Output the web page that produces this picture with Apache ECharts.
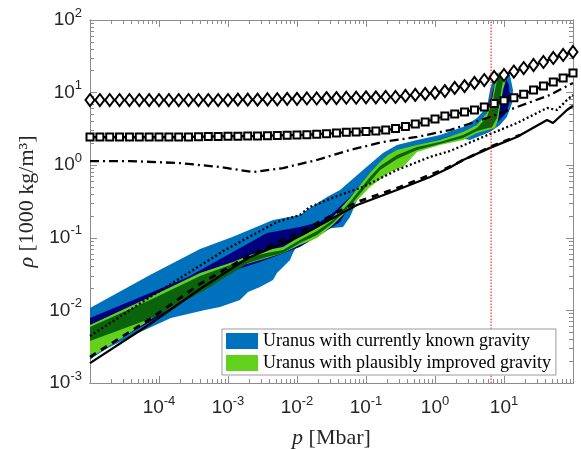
<!DOCTYPE html>
<html>
<head>
<meta charset="utf-8">
<script src="https://cdn.jsdelivr.net/npm/echarts@6/dist/echarts.min.js"></script>
<style>
  html, body { margin: 0; padding: 0; background: #fff; }
  #chart { width: 581px; height: 449px; }
</style>
</head>
<body>
<div id="chart"></div>
<script>
const chart = echarts.init(document.getElementById('chart'));

// --- data (p in Mbar, rho in 1000 kg/m^3) ---
const pGrid = [
  1e-5, 1.39e-5, 1.93e-5, 2.68e-5, 3.73e-5, 5.18e-5, 7.2e-5,
  1e-4, 1.39e-4, 1.93e-4, 2.68e-4, 3.73e-4, 5.18e-4, 7.2e-4,
  1e-3, 1.39e-3, 1.93e-3, 2.68e-3, 3.73e-3, 5.18e-3, 7.2e-3,
  1e-2, 1.39e-2, 1.93e-2, 2.68e-2, 3.73e-2, 5.18e-2, 7.2e-2,
  0.1, 0.139, 0.193, 0.268, 0.373, 0.518, 0.72,
  1, 1.39, 1.93, 2.68, 3.73, 5.18, 7.2,
  10, 13.9, 19.3, 26.8, 37.3, 51.8, 72,
  100
];
const diamondRho = [
  7.9, 7.9, 7.9, 7.9, 7.9, 7.9, 7.9, 7.9, 7.9, 7.9, 7.9, 7.9, 7.9, 7.9, 7.9,
  8.0, 8.0, 8.0, 8.1, 8.1,
  8.2, 8.2, 8.3, 8.3, 8.4, 8.4, 8.5, 8.5, 8.6, 8.6,
  8.7, 8.7, 9.0, 9.3, 9.6, 9.9, 10.5, 11.6, 12.3, 13.6,
  14.9, 16.4, 17.5, 19.5, 21.8, 24.0, 26.4, 30.0, 33.0, 36.3
];
const squareRho = [
  2.44, 2.44, 2.44, 2.44, 2.44, 2.44, 2.44, 2.44, 2.44, 2.44, 2.44,
  2.47, 2.48, 2.49, 2.50, 2.51, 2.52, 2.53, 2.55, 2.57, 2.59,
  2.60, 2.63, 2.67, 2.72, 2.77,
  2.84, 2.87, 2.91, 2.96, 3.05, 3.20, 3.40, 3.68, 3.94, 4.33, 4.76, 5.07,
  5.41, 5.76, 6.33, 7.05, 7.7, 8.5, 9.5, 10.9, 12.3, 14.0, 15.9, 18.6
];
const solidCurve = [
  [1e-5, 1.88e-3], [7.41e-5, 6.5e-3], [3.93e-4, 1.97e-2], [1.95e-3, 5.27e-2],
  [1.1e-2, 0.106], [7.41e-2, 0.283], [0.281, 0.455], [0.847, 0.688], [1.65, 0.93],
  [2.55, 1.18], [6.27, 1.73], [15.4, 2.45], [42, 4.19], [51.3, 3.81], [81.8, 5.76], [100, 6.6]
];
const dashedCurve = [
  [1e-5, 2.28e-3], [7.41e-5, 7.62e-3], [3.93e-4, 2.31e-2], [1.95e-3, 5.61e-2],
  [1.1e-2, 0.12], [7.41e-2, 0.311], [0.311, 0.501], [1.49, 0.914], [6.27, 1.78], [17.1, 2.61]
];
const dottedCurve = [
  [1e-5, 4.44e-3], [7.41e-5, 1.53e-2], [3.93e-4, 4.13e-2], [9.06e-4, 6.79e-2],
  [5.13e-3, 0.165], [1.1e-2, 0.206], [1.54e-2, 0.266], [4.2e-2, 0.389], [9.06e-2, 0.501],
  [0.281, 0.859], [0.847, 1.30], [1.65, 1.57], [4.96, 2.45], [15.4, 3.81], [42, 6.14],
  [58.6, 5.76], [81.8, 7.91], [100, 9.27]
];
const dashDotCurve = [
  [1e-5, 1.14], [3.8e-5, 1.14], [2.01e-4, 1.07], [7.66e-4, 0.944], [2.3e-3, 0.805],
  [6.26e-3, 0.914], [1.95e-2, 1.18], [5.86e-2, 1.62], [0.176, 2.09], [0.548, 2.45],
  [1.65, 3.05], [6.27, 4.61], [15.4, 6.33], [46.4, 9.27], [100, 13.6]
];

// outlines of the shaded ensembles
const knownOuter = [
  [1e-5, 1.08e-2], [7.41e-5, 3.08e-2], [3.93e-4, 7.0e-2], [1.18e-3, 0.103], [4.49e-3, 0.176],
  [1.1e-2, 0.206], [1.54e-2, 0.257], [2.72e-2, 0.365], [4.2e-2, 0.455], [9.06e-2, 0.859],
  [0.176, 1.47], [0.281, 1.90], [0.548, 2.22], [1.18, 2.61], [2.55, 3.36], [4.06, 4.47],
  [5.67, 6.33], [6.27, 10.9], [6.7, 13.6], [7.92, 18.6], [10.3, 19.2], [12.2, 17.5],
  [13.5, 10.9], [13.1, 7.19], [11.0, 4.61], [8.75, 3.58], [6.27, 2.87], [3.21, 2.22],
  [2.3, 2.37], [1.18, 2.09], [0.48, 1.62], [0.281, 1.30], [0.16, 0.859], [9.06e-2, 0.501],
  [7.41e-2, 0.332], [5.86e-2, 0.194], [4.64e-2, 0.141], [3.32e-2, 0.136], [1.95e-2, 0.128],
  [1.1e-2, 9.33e-2], [8.75e-3, 6.18e-2], [7.92e-3, 4.95e-2], [5.13e-3, 3.27e-2],
  [4.49e-3, 2.62e-2], [2.91e-3, 2.1e-2], [1.95e-3, 1.79e-2], [1.49e-3, 1.39e-2],
  [7.66e-4, 1.11e-2], [4.64e-4, 1.01e-2], [1.49e-4, 7.85e-3], [4.97e-5, 4.89e-3],
  [1.82e-5, 3.03e-3], [1.18e-5, 2.36e-3], [1e-5, 2.07e-3]
];
const knownInner = [
  [1e-5, 7.85e-3], [7.41e-5, 1.74e-2], [2.63e-4, 2.88e-2], [1.18e-3, 6.37e-2], [3.67e-3, 0.116],
  [1.1e-2, 0.141], [2.15e-2, 0.165], [3.32e-2, 0.22], [5.31e-2, 0.332], [7.41e-2, 0.455],
  [0.16, 0.944], [0.281, 1.52], [0.847, 2.09], [2.55, 2.78], [4.49, 3.58], [5.86, 5.41],
  [6.93, 10.9], [8.19, 15.9], [10.3, 16.9], [11.8, 12.7], [12.2, 7.91], [11.0, 5.41],
  [8.75, 4.19], [6.27, 3.25], [3.21, 2.69], [1.18, 2.3], [0.48, 1.78], [0.281, 1.38],
  [0.16, 0.80], [9.06e-2, 0.48], [5.86e-2, 0.283], [4.2e-2, 0.165], [2.15e-2, 0.109],
  [1.1e-2, 7.47e-2], [2.91e-3, 4.64e-2], [7.66e-4, 3.08e-2], [3.93e-4, 1.91e-2],
  [7.41e-5, 6.92e-3], [1e-5, 2.43e-3]
];
const improvedOuter = [
  [1e-5, 6.29e-3], [7.41e-5, 1.53e-2], [3.93e-4, 3.27e-2], [1.18e-3, 4.64e-2], [2.08e-3, 5.8e-2],
  [3.67e-3, 6.79e-2], [6.26e-3, 7.47e-2], [1.1e-2, 0.103], [1.95e-2, 0.136], [3.32e-2, 0.194],
  [5.86e-2, 0.353], [0.114, 0.781], [0.16, 1.11], [0.208, 1.38], [0.281, 1.62], [0.548, 1.9],
  [1.18, 2.22], [2.55, 2.87], [4.06, 3.58], [5.67, 5.24], [6.7, 7.91], [7.41, 13.6],
  [8.19, 18.6], [9.68, 19.2], [11.0, 16.4], [9.68, 10.9], [8.75, 6.33], [8.19, 4.19],
  [7.41, 3.25], [4.06, 2.78], [2.55, 2.22], [1.18, 1.9], [0.548, 1.52], [0.344, 0.944],
  [0.223, 0.805], [0.114, 0.501], [5.86e-2, 0.257], [3.32e-2, 0.15], [1.95e-2, 9.93e-2],
  [1.1e-2, 7.96e-2], [6.26e-3, 6.18e-2], [3.67e-3, 5.27e-2], [1.18e-3, 3.84e-2],
  [3.93e-4, 2.24e-2], [7.41e-5, 7.38e-3], [1e-5, 2.21e-3]
];
const improvedInner = [
  [1e-5, 5.9e-3], [7.41e-5, 1.39e-2], [3.93e-4, 2.98e-2], [1.18e-3, 4.36e-2], [2.08e-3, 5.44e-2],
  [3.67e-3, 6.18e-2], [6.26e-3, 6.79e-2], [1.1e-2, 9.33e-2], [1.95e-2, 0.124], [3.32e-2, 0.176],
  [5.86e-2, 0.311], [0.114, 0.688], [0.16, 0.975], [0.281, 1.38], [0.548, 1.78], [1.18, 2.09],
  [2.55, 2.61], [4.06, 3.25], [5.67, 4.61], [6.93, 7.91], [7.92, 14.9], [9.06, 18.0],
  [9.68, 14.9], [8.75, 7.91], [7.92, 4.47], [6.7, 3.36], [4.06, 2.96], [2.55, 2.37],
  [1.18, 1.96], [0.548, 1.62], [0.281, 1.22], [0.16, 0.859], [0.114, 0.587], [5.86e-2, 0.274],
  [3.32e-2, 0.16], [1.95e-2, 0.109], [1.1e-2, 8.48e-2], [6.26e-3, 6.18e-2], [3.67e-3, 5.44e-2],
  [1.95e-3, 4.5e-2], [4.64e-4, 1.91e-2], [8.75e-5, 8.11e-3], [1e-5, 3.79e-3]
];

const pTransition = 6.5; // red dotted marker
const transitionLine = [[pTransition, 1e-3], [pTransition, 100]];
const xLabelValues = [1e-4, 1e-3, 1e-2, 1e-1, 1, 10];
const yLabelValues = [1e-3, 1e-2, 1e-1, 1, 10, 100];
const xMajor = [1e-5, 1e-4, 1e-3, 1e-2, 1e-1, 1, 10, 100];
const yMajor = [1e-3, 1e-2, 1e-1, 1, 10, 100];

const legendKnown = 'Uranus with currently known gravity';
const legendImproved = 'Uranus with plausibly improved gravity';

// minor ticks 2..9 inside each decade
function minorTicks(lo, hi) {
  const out = [];
  for (let e = lo; e < hi; e++) {
    for (let m = 2; m <= 9; m++) out.push(m * Math.pow(10, e));
  }
  return out;
}
const xMinor = minorTicks(-5, 2);
const yMinor = minorTicks(-3, 2);

const AXIS_GRAY = '#8c8c8c';
const TEXT = '#262626';
const RED = '#ff0000';

const tickRich = {
  b: { fontFamily: 'Liberation Sans', fontSize: 19, color: TEXT, lineHeight: 22 },
  s: { fontFamily: 'Liberation Sans', fontSize: 13, color: TEXT, lineHeight: 13, padding: [0, 0, 14, 0] }
};
function powLabel(v) {
  const e = Math.round(Math.log10(v));
  return '{b|10}{s|' + e + '}';
}

function logAxis(extra) {
  return Object.assign({
    type: 'log',
    logBase: 10,
    splitLine: { show: false },
    axisLine: { onZero: false, lineStyle: { color: AXIS_GRAY, width: 1 } },
    axisLabel: { show: false },
    axisTick: { show: false }
  }, extra);
}
function ticks(values, len) {
  return { show: true, inside: true, length: len, customValues: values, lineStyle: { color: AXIS_GRAY, width: 1 } };
}

function bandSeries(name, poly, color) {
  return {
    name: name,
    type: 'custom',
    coordinateSystem: 'cartesian2d',
    silent: true,
    clip: true,
    itemStyle: { color: color },
    encode: { x: 0, y: 1 },
    data: poly,
    renderItem: function (params, api) {
      if (params.dataIndex !== 0) return null;
      return {
        type: 'polygon',
        shape: { points: poly.map(function (pt) { return api.coord(pt); }) },
        style: { fill: color }
      };
    }
  };
}

function curve(data, style, z) {
  return {
    type: 'line',
    data: data,
    symbol: 'none',
    silent: true,
    z: z || 3,
    lineStyle: Object.assign({ color: '#000', width: 2.3 }, style)
  };
}

chart.setOption({
  animation: false,
  backgroundColor: '#fff',
  grid: { left: 90, right: 8, top: 20, bottom: 66, outerBoundsMode: 'none' },
  legend: {
    left: 222,
    top: 329,
    orient: 'vertical',
    itemWidth: 32,
    itemHeight: 16,
    itemGap: 4,
    padding: [3, 5, 3, 4],
    borderColor: '#9a9a9a',
    borderWidth: 1,
    backgroundColor: '#fff',
    selectedMode: false,
    z: 10,
    textStyle: { fontFamily: 'Liberation Serif', fontSize: 18, color: '#000' },
    data: [
      { name: legendKnown, icon: 'rect' },
      { name: legendImproved, icon: 'rect' }
    ]
  },
  xAxis: [
    logAxis({
      min: 1e-5, max: 100, position: 'bottom',
      axisTick: ticks(xMajor, 7),
      axisLabel: { show: true, customValues: xLabelValues, formatter: powLabel, rich: tickRich, margin: 14 },
      name: '{i|p} [Mbar]',
      nameLocation: 'middle',
      nameGap: 44,
      nameTextStyle: {
        fontFamily: 'Liberation Serif', fontSize: 22, color: TEXT,
        rich: { i: { fontFamily: 'Liberation Serif', fontSize: 22, fontStyle: 'italic', color: TEXT } }
      }
    }),
    logAxis({ min: 1e-5, max: 100, position: 'bottom', axisTick: ticks(xMinor, 4) }),
    logAxis({ min: 1e-5, max: 100, position: 'top', axisTick: ticks(xMajor, 7) }),
    logAxis({ min: 1e-5, max: 100, position: 'top', axisTick: ticks(xMinor, 4) })
  ],
  yAxis: [
    logAxis({
      min: 1e-3, max: 100, position: 'left',
      axisTick: ticks(yMajor, 7),
      axisLabel: { show: true, customValues: yLabelValues, formatter: powLabel, rich: tickRich, margin: 8 },
      name: '{i|ρ} [1000 kg/m³]',
      nameLocation: 'middle',
      nameGap: 50,
      nameTextStyle: {
        fontFamily: 'Liberation Serif', fontSize: 22, color: TEXT,
        rich: { i: { fontFamily: 'Liberation Serif', fontSize: 22, fontStyle: 'italic', color: TEXT } }
      }
    }),
    logAxis({ min: 1e-3, max: 100, position: 'left', axisTick: ticks(yMinor, 4) }),
    logAxis({ min: 1e-3, max: 100, position: 'right', axisTick: ticks(yMajor, 7) }),
    logAxis({ min: 1e-3, max: 100, position: 'right', axisTick: ticks(yMinor, 4) })
  ],
  series: [
    bandSeries(legendKnown, knownOuter, '#0072BD'),
    bandSeries('known-inner', knownInner, '#00007F'),
    bandSeries(legendImproved, improvedOuter, '#62D11B'),
    bandSeries('improved-inner', improvedInner, '#0B640B'),
    curve(dashDotCurve, { type: [9, 4, 2, 4] }),
    curve(dottedCurve, { type: [2, 2.5] }),
    curve(solidCurve, {}),
    curve(dashedCurve, { type: [7, 6], width: 2.8 }),
    {
      type: 'line',
      data: pGrid.map(function (p, i) { return [p, squareRho[i]]; }),
      symbol: 'rect',
      symbolSize: 7,
      silent: true,
      z: 4,
      lineStyle: { color: '#000', width: 2.3 },
      itemStyle: { color: '#fff', borderColor: '#000', borderWidth: 2 }
    },
    {
      type: 'line',
      data: pGrid.map(function (p, i) { return [p, diamondRho[i]]; }),
      symbol: 'diamond',
      symbolSize: [9, 12],
      silent: true,
      z: 4,
      lineStyle: { color: '#000', width: 2.3 },
      itemStyle: { color: '#fff', borderColor: '#000', borderWidth: 2 }
    },
    {
      type: 'line',
      data: transitionLine,
      symbol: 'none',
      silent: true,
      z: 5,
      itemStyle: { color: RED },
      lineStyle: { color: RED, type: [1.5, 1.5], width: 1 }
    }
  ]
});

window.addEventListener('resize', () => chart.resize());
</script>
</body>
</html>
